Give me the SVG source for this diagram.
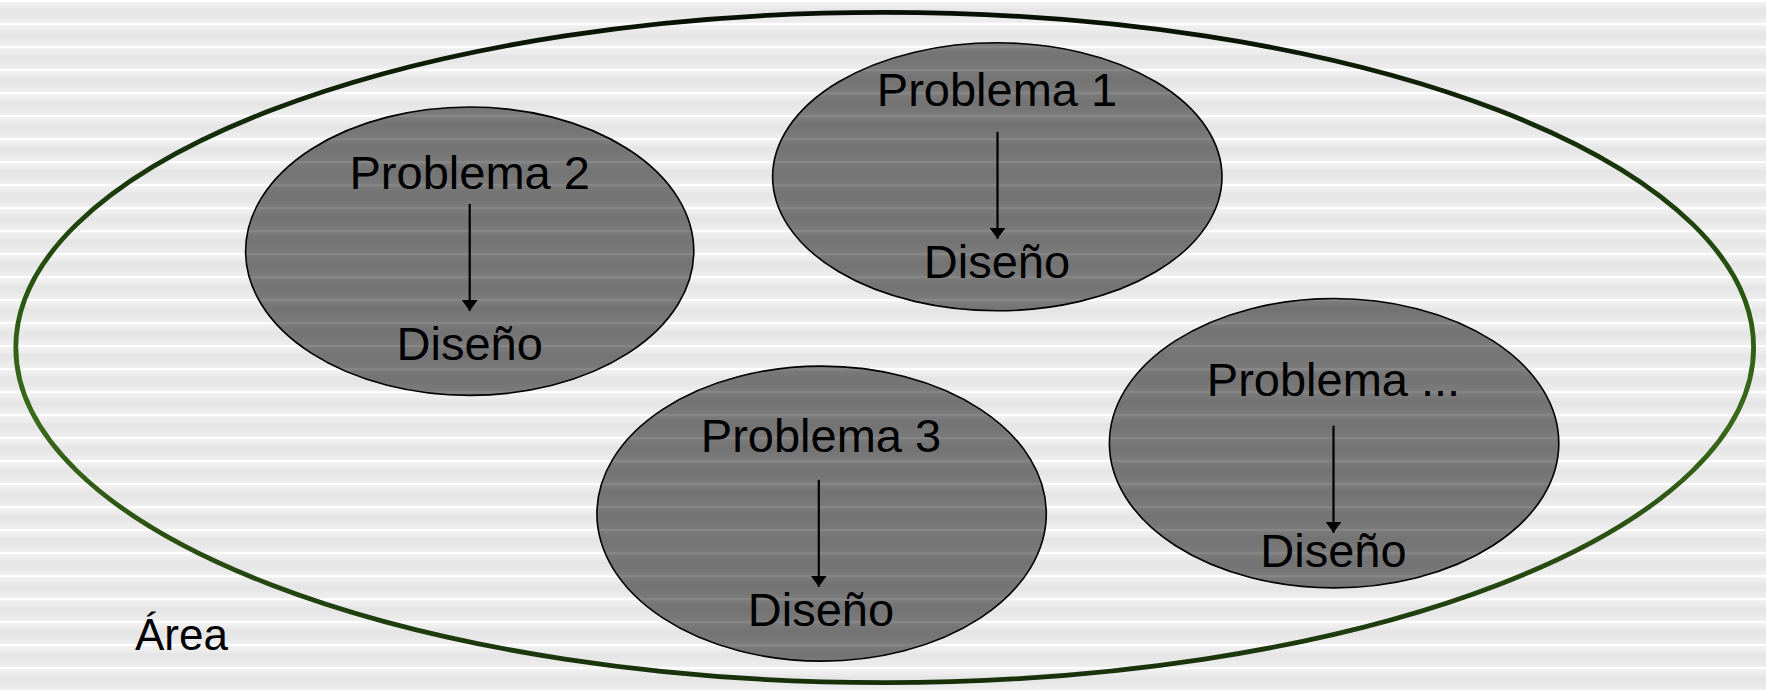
<svg xmlns="http://www.w3.org/2000/svg" width="1766" height="690" viewBox="0 0 1766 690">
<defs>
<linearGradient id="bgStripe" x1="0" y1="0" x2="0" y2="1">
<stop offset="0" stop-color="#ffffff"/>
<stop offset="0.08" stop-color="#ffffff"/>
<stop offset="0.11" stop-color="#f1f1f1"/>
<stop offset="0.3" stop-color="#ececec"/>
<stop offset="0.45" stop-color="#e5e5e5"/>
<stop offset="0.65" stop-color="#e7e7e7"/>
<stop offset="1" stop-color="#efefef"/>
</linearGradient>
<pattern id="bg" x="0" y="0" width="1766" height="23" patternUnits="userSpaceOnUse">
<rect width="1766" height="23" fill="url(#bgStripe)"/>
</pattern>
<linearGradient id="fgStripe" x1="0" y1="0" x2="0" y2="1">
<stop offset="0" stop-color="#868686"/>
<stop offset="0.08" stop-color="#868686"/>
<stop offset="0.12" stop-color="#7a7a7a"/>
<stop offset="0.45" stop-color="#737373"/>
<stop offset="0.7" stop-color="#767676"/>
<stop offset="1" stop-color="#7b7b7b"/>
</linearGradient>
<pattern id="fg" x="0" y="0" width="1766" height="23" patternUnits="userSpaceOnUse">
<rect width="1766" height="23" fill="url(#fgStripe)"/>
</pattern>
<linearGradient id="outerStroke" x1="0" y1="0" x2="0" y2="1">
<stop offset="0" stop-color="#061003"/>
<stop offset="0.45" stop-color="#2c5a12"/>
<stop offset="0.6" stop-color="#3a6b1a"/>
<stop offset="1" stop-color="#17300a"/>
</linearGradient>
<marker id="arrow" viewBox="0 0 11 16" refX="11" refY="8" markerWidth="11" markerHeight="16" markerUnits="userSpaceOnUse" orient="auto">
<path d="M0,0 L11,8 L0,16 Z" fill="#000"/>
</marker>
<style>
.node ellipse { fill: url(#fg); stroke: #000; stroke-width: 1.6; }
.lbl { font-family: "Liberation Sans", Arial, sans-serif; font-size: 47px; fill: #000; text-anchor: middle; }
.conn line { stroke: #000; stroke-width: 2.2; marker-end: url(#arrow); }
</style>
</defs>
<rect width="1766" height="690" fill="url(#bg)"/>
<g id="area">
<ellipse cx="884.7" cy="347.5" rx="868.9" ry="335.1" fill="none" stroke="url(#outerStroke)" stroke-width="4.8"/>
<text x="135" y="650" font-family="Liberation Sans, Arial, sans-serif" font-size="44" fill="#000">Área</text>
</g>
<g id="p1" class="node">
<ellipse cx="997.3" cy="176.8" rx="224.7" ry="134"/>
<text class="lbl" x="997" y="106">Problema 1</text>
<text class="lbl" x="997" y="278">Diseño</text>
</g>
<g id="p2" class="node">
<ellipse cx="469.7" cy="251.2" rx="224.1" ry="144.2"/>
<text class="lbl" x="469.7" y="189">Problema 2</text>
<text class="lbl" x="469.7" y="360">Diseño</text>
</g>
<g id="p3" class="node">
<ellipse cx="821.6" cy="513.6" rx="224.7" ry="147.5"/>
<text class="lbl" x="821" y="452">Problema 3</text>
<text class="lbl" x="821" y="626">Diseño</text>
</g>
<g id="pn" class="node">
<ellipse cx="1334.1" cy="443.2" rx="224.7" ry="144.7"/>
<text class="lbl" x="1333.5" y="396">Problema ...</text>
<text class="lbl" x="1333.5" y="567">Diseño</text>
</g>
<g id="connectors" class="conn">
<line x1="997.5" y1="131.8" x2="997.5" y2="238.8"/>
<line x1="469.7" y1="203.9" x2="469.7" y2="310.9"/>
<line x1="818.8" y1="479.8" x2="818.8" y2="586.8"/>
<line x1="1333.5" y1="425.7" x2="1333.5" y2="532.7"/>
</g>
</svg>
